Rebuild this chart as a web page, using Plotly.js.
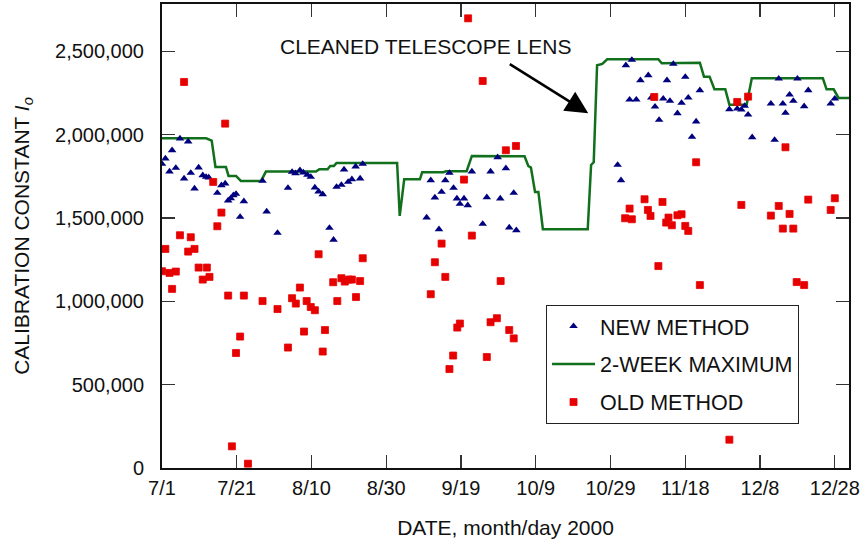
<!DOCTYPE html>
<html>
<head>
<meta charset="utf-8">
<script src="https://cdn.plot.ly/plotly-3.0.1.min.js"></script>
<style>
  html, body { margin: 0; padding: 0; background: #fff; }
  #chart { width: 866px; height: 546px; }
</style>
</head>
<body>
<div id="chart"></div>
<script>
// Days are counted from July 1, 2000 (day 0); values are calibration constants I_o.

// New method (triangles)
const newDays = [
  0, 0.9, 2.0, 2.7, 3.7, 4.8, 5.9, 7.0, 7.7, 8.7, 9.8, 10.9, 11.8, 12.5, 14.8, 15.9, 16.9,
  17.7, 18.4, 19.1, 19.8, 20.9, 21.9, 26.9, 28.0, 30.9, 33.7, 34.8, 35.7, 36.9, 37.8, 38.9,
  39.8, 40.9, 41.9, 43.0, 44.8, 45.9, 46.7, 48.0, 48.7, 49.8, 50.8, 51.8, 53.0, 53.7,
  70.8, 71.9, 73.0, 74.1, 74.8, 75.8, 76.9, 78.0, 78.9, 79.7, 80.8, 81.8, 82.9, 85.8, 86.9,
  87.9, 89.8, 90.5, 92.0, 92.9, 94.1, 94.8,
  121.9, 122.8, 124.1, 125.1, 125.7, 126.9, 128.0, 130.1, 130.9, 131.9, 133.0, 134.1, 135.1,
  135.9, 136.8, 137.9, 139.0, 140.0, 140.8, 141.8, 142.9, 143.9, 151.8, 153.9, 155.0, 155.9,
  156.8, 157.9, 162.9, 163.9, 165.0, 166.1, 166.8, 167.9, 168.9, 170.0, 171.8, 172.9, 178.9, 180.0
];
const newValues = [
  1825000, 1857000, 1779000, 1907000, 1801000, 1977000, 1737000, 1959000, 1771000, 1677000,
  1803000, 1757000, 1747000, 1743000, 1651000, 1697000, 1707000, 1605000, 1619000, 1637000,
  1645000, 1507000, 1601000, 1723000, 1539000, 1411000, 1681000, 1777000, 1769000, 1787000,
  1773000, 1759000, 1747000, 1683000, 1659000, 1643000, 1441000, 1370000, 1687000, 1699000,
  1791000, 1717000, 1733000, 1809000, 1737000, 1825000,
  1503000, 1727000, 1623000, 1433000, 1657000, 1727000, 1771000, 1681000, 1617000, 1585000,
  1617000, 1577000, 1779000, 1465000, 1625000, 1779000, 1865000, 1617000, 1799000, 1443000,
  1651000, 1427000,
  1819000, 1727000, 2417000, 2211000, 2449000, 2211000, 2327000, 2357000, 2223000, 2169000,
  2089000, 2217000, 2327000, 2203000, 2425000, 2129000, 2191000, 2347000, 2223000, 1987000,
  2079000, 2267000, 2153000, 2157000, 2151000, 2173000, 2121000, 1985000, 2187000, 1969000,
  2337000, 2187000, 2131000, 2241000, 2203000, 2337000, 2171000, 2267000, 2187000, 2217000
];

// Old method (squares)
const oldDays = [
  0, 0.9, 2.0, 2.7, 3.7, 4.8, 5.9, 7.0, 7.7, 8.7, 9.8, 10.9, 12.0, 12.7, 13.7, 14.8, 15.9,
  16.9, 17.7, 18.7, 19.8, 20.9, 21.9, 23.0, 26.9, 30.9, 33.7, 34.8, 35.8, 36.9, 38.0, 38.7,
  39.8, 40.9, 41.9, 43.0, 43.6, 45.8, 46.9, 48.0, 48.9, 50.0, 50.8, 51.9, 53.0, 53.7,
  71.9, 73.0, 74.8, 75.8, 76.9, 77.9, 79.0, 79.7, 80.8, 81.9, 82.9, 85.8, 86.9, 87.9, 89.6,
  90.6, 92.0, 92.9, 94.1, 94.7,
  123.9, 125.1, 125.7, 129.1, 130.0, 130.7, 131.7, 132.8, 133.9, 134.9, 135.5, 136.4, 137.9,
  139.0, 140.0, 140.8, 142.9, 143.9, 151.8, 153.9, 155.0, 156.8, 162.9, 165.0, 166.1, 166.8,
  167.9, 168.9, 169.8, 171.8, 172.9, 178.9, 180.0
];
const oldValues = [
  1181000, 1315000, 1171000, 1075000, 1179000, 1397000, 2317000, 1299000, 1385000, 1315000,
  1203000, 1131000, 1203000, 1147000, 1717000, 1451000, 1533000, 2067000, 1035000, 130000,
  690000, 789000, 1035000, 26000, 1002000, 954000, 723000, 1019000, 987000, 1083000,
  819000, 1002000, 966000, 947000, 1283000, 699000, 828000, 1115000, 1002000, 1139000,
  1119000, 1131000, 1131000, 1026000, 1122000, 1259000,
  1043000, 1235000, 1347000, 1147000, 594000, 675000, 843000, 867000, 1731000, 2699000,
  1395000, 2323000, 666000, 875000, 899000, 1122000, 1907000, 828000, 778000, 1933000,
  1499000, 1557000, 1493000, 1613000, 1549000, 1513000, 2227000, 1212000, 1597000, 1473000,
  1503000, 1457000, 1517000, 1523000, 1453000, 1423000, 1835000, 1098000, 170000, 2197000,
  1579000, 2229000, 1515000, 1573000, 1437000, 1925000, 1525000, 1437000, 1116000, 1098000,
  1611000, 1549000, 1619000
];

// Two-week running maximum (line)
const maxDays = [
  0, 11.8, 13.3, 14.3, 17.1, 17.8, 19.8, 21.1, 26.5, 27.8, 41.2, 42.1, 44.3, 45.0, 46.0, 46.7,
  62.9, 63.6, 64.8, 69.0, 69.6, 75.3, 76.0, 81.5, 82.9, 97.0, 98.0, 98.7, 99.8, 100.7, 101.9,
  113.9, 114.8, 115.5, 116.4, 117.8, 119.1, 132.8, 133.7, 143.9, 145.0, 146.5, 147.8, 150.7,
  151.8, 156.4, 157.8, 176.8, 177.8, 179.7, 181.0, 184.0
];
const maxValues = [
  1979000, 1979000, 1965000, 1807000, 1807000, 1753000, 1753000, 1723000, 1723000, 1779000,
  1779000, 1793000, 1793000, 1813000, 1813000, 1831000, 1831000, 1513000, 1733000, 1733000,
  1775000, 1775000, 1781000, 1781000, 1873000, 1871000, 1813000, 1803000, 1657000, 1657000,
  1433000, 1433000, 1819000, 1835000, 2417000, 2425000, 2453000, 2453000, 2429000, 2433000,
  2349000, 2349000, 2273000, 2273000, 2181000, 2181000, 2339000, 2339000, 2273000, 2273000,
  2221000, 2221000
];

// Axis ticks
const dateTickDays = [0, 20, 40, 60, 80, 100, 120, 140, 160, 180];
const dateTickLabels = ['7/1', '7/21', '8/10', '8/30', '9/19', '10/9', '10/29', '11/18', '12/8', '12/28'];

const FONT = 'Arial, "Liberation Sans", Helvetica, sans-serif';
const BLUE = '#00007f';
const RED = '#e60000';
const GREEN = '#11701c';

const traces = [
  {
    x: maxDays, y: maxValues, type: 'scatter', mode: 'lines',
    name: '2-WEEK MAXIMUM', legendgroup: 'max', legendrank: 2,
    line: { color: GREEN, width: 2.5 },
    hoverinfo: 'skip'
  },
  {
    x: newDays, y: newValues, type: 'scatter', mode: 'markers',
    name: 'NEW METHOD', legendgroup: 'new', legendrank: 1,
    marker: { symbol: 'triangle-up', size: 7.5, color: BLUE }
  },
  {
    x: oldDays, y: oldValues, type: 'scatter', mode: 'markers',
    name: 'OLD METHOD', legendgroup: 'old', legendrank: 3,
    marker: { symbol: 'square', size: 7, color: RED, line: { color: RED, width: 0.8 } }
  }
];

const axisCommon = {
  showgrid: false, zeroline: false,
  showline: true, linecolor: '#111', linewidth: 2, mirror: 'ticks',
  ticks: 'inside', ticklen: 13, tickwidth: 1.3, tickcolor: '#333',
  tickfont: { family: FONT, size: 20, color: '#111' }
};

const layout = {
  width: 866, height: 546,
  margin: { l: 162, r: 17, t: 4, b: 78 },
  paper_bgcolor: '#fff', plot_bgcolor: '#fff',
  font: { family: FONT, color: '#111' },
  showlegend: true,
  xaxis: Object.assign({}, axisCommon, {
    range: [0, 183.8],
    tickmode: 'array', tickvals: dateTickDays, ticktext: dateTickLabels,
    ticklabelstandoff: 1,
    title: { text: 'DATE, month/day 2000', font: { family: FONT, size: 21, color: '#111' }, standoff: 22 }
  }),
  yaxis: Object.assign({}, axisCommon, {
    range: [0, 2785000],
    tick0: 0, dtick: 500000, tickformat: ',d',
    ticklabelstandoff: 12,
    title: { text: 'CALIBRATION CONSTANT <i>I</i><sub><i>o</i></sub>', font: { family: FONT, size: 21, color: '#111' }, standoff: 20 }
  }),
  legend: {
    x: 0.559, y: 0.352, xanchor: 'left', yanchor: 'top',
    bgcolor: '#fff', bordercolor: '#222', borderwidth: 1,
    font: { family: FONT, size: 21.5, color: '#111' },
    traceorder: 'grouped', tracegroupgap: 7, itemwidth: 43
  },
  annotations: [
    {
      xref: 'paper', yref: 'paper', x: 0.384, y: 0.908,
      xanchor: 'center', yanchor: 'middle',
      text: 'CLEANED TELESCOPE LENS', showarrow: false,
      font: { family: FONT, size: 21, color: '#111' }
    },
    {
      xref: 'paper', yref: 'paper', x: 0.6205, y: 0.7647,
      text: '', showarrow: true, ax: -80, ay: -50,
      arrowhead: 2, arrowsize: 1.8, arrowwidth: 2.5, arrowcolor: '#000'
    }
  ]
};

Plotly.newPlot('chart', traces, layout, { displayModeBar: false, staticPlot: true });
</script>
</body>
</html>
